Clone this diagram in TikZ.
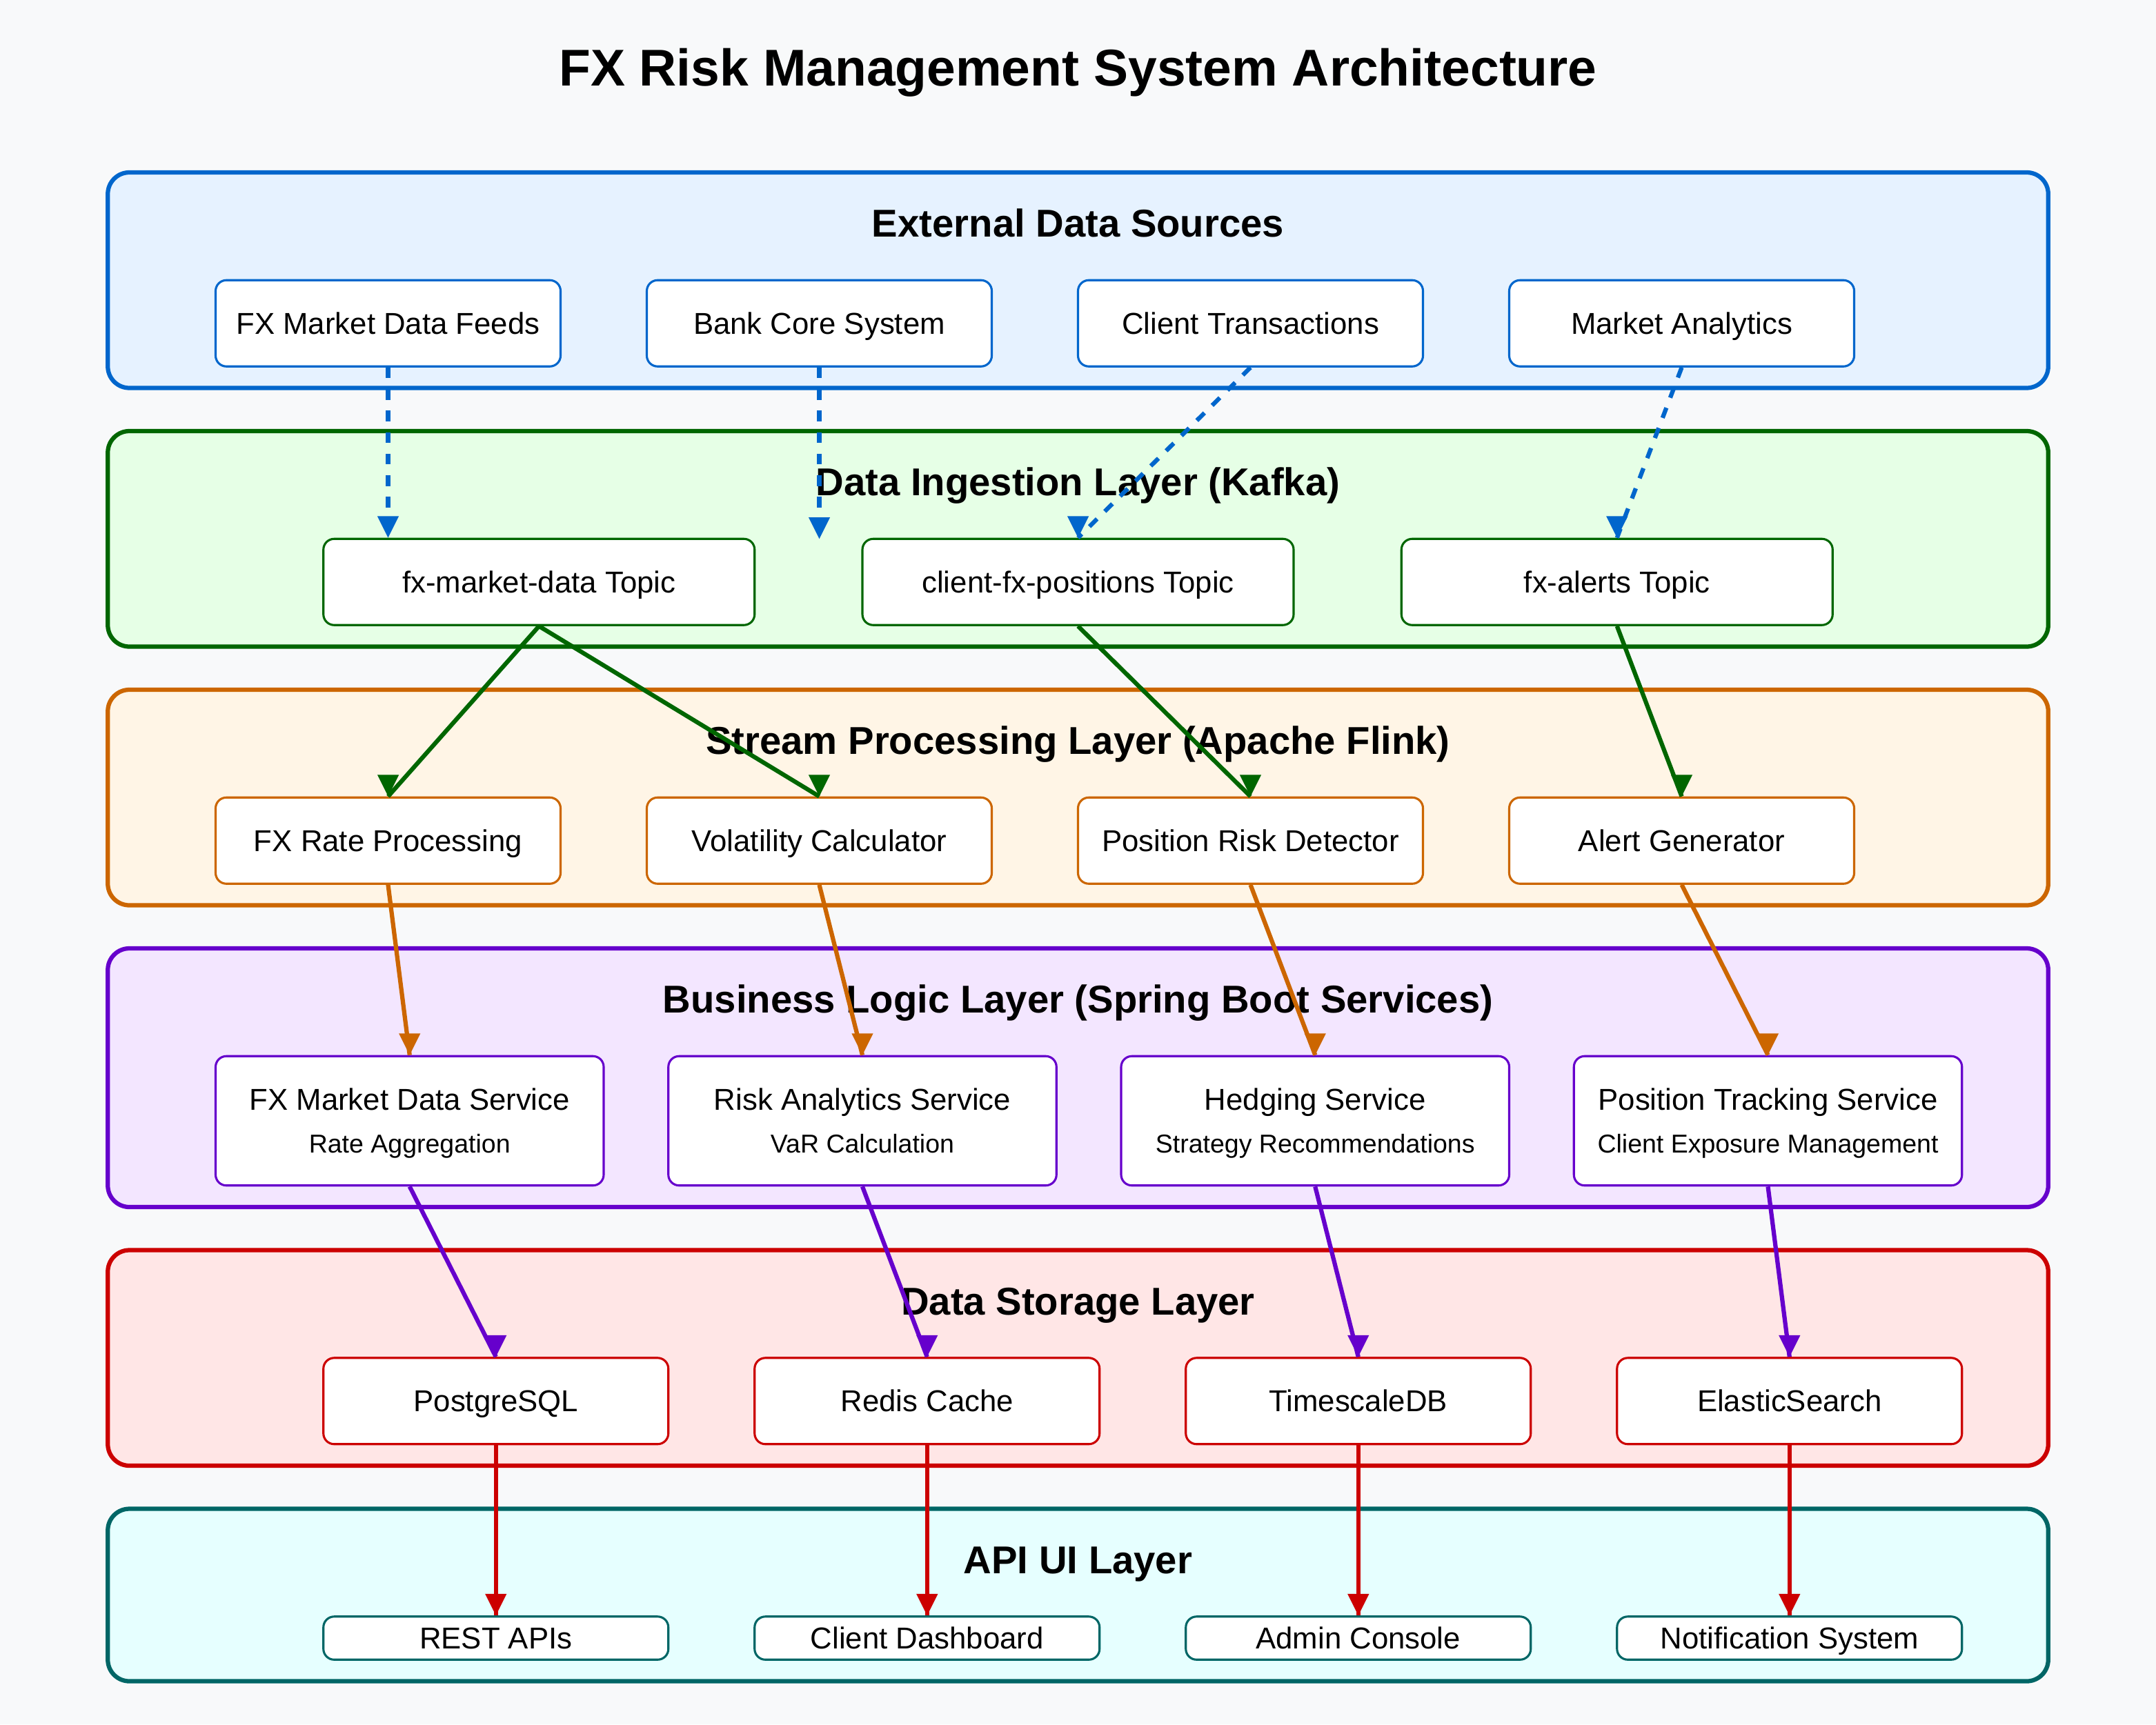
\documentclass[tikz,border=0pt]{standalone}
\usepackage{fontspec}
\setmainfont{Liberation Sans}
\usepackage{xcolor}
\usetikzlibrary{decorations.markings}

\definecolor{pagebg}{HTML}{F8F9FA}
\definecolor{extline}{HTML}{0066CC}
\definecolor{extfill}{HTML}{E6F2FF}
\definecolor{ingline}{HTML}{006600}
\definecolor{ingfill}{HTML}{E6FFE6}
\definecolor{strline}{HTML}{CC6600}
\definecolor{strfill}{HTML}{FFF5E6}
\definecolor{bizline}{HTML}{6600CC}
\definecolor{bizfill}{HTML}{F3E6FF}
\definecolor{stoline}{HTML}{CC0000}
\definecolor{stofill}{HTML}{FFE6E6}
\definecolor{apiline}{HTML}{006666}
\definecolor{apifill}{HTML}{E6FFFF}

\tikzset{
  layerbox/.style={draw, rounded corners=10pt, line width=2pt,
    minimum width=900pt, inner sep=0pt},
  layertitle/.style={anchor=base, inner sep=0pt,
    font=\fontsize{18}{20}\selectfont\bfseries},
  compbox/.style={draw, fill=white, rounded corners=5pt, line width=1pt,
    inner sep=0pt, minimum width=160pt, minimum height=40pt,
    font=\fontsize{14}{16}\selectfont, text height=10pt, text depth=0pt},
  svcname/.style={anchor=base, inner sep=0pt, font=\fontsize{14}{16}\selectfont},
  svcsub/.style={anchor=base, inner sep=0pt, font=\fontsize{12}{14}\selectfont},
  % head always points straight down, whatever the line's slope
  flow/.style={line width=2pt, postaction={decorate},
    decoration={markings, mark=at position 1 with {
      \pgftransformresetnontranslations
      \fill (0pt,0pt) -- (-5pt,10pt) -- (5pt,10pt) -- cycle;}}},
  feed/.style={flow, dash pattern=on 5pt off 5pt},
}

\begin{document}
\begin{tikzpicture}[x=1pt,y=-1pt]
  \useasboundingbox (0,0) rectangle (1000,800);
  \fill[pagebg] (0,0) rectangle (1000,800);

  \node (title) [anchor=base, inner sep=0pt, font=\fontsize{24}{28}\selectfont\bfseries]
    at (500,40) {FX Risk Management System Architecture};

  % layers
  \node (ext) [layerbox, draw=extline, fill=extfill, minimum height=100pt] at (500,130) {};
  \node (ing) [layerbox, draw=ingline, fill=ingfill, minimum height=100pt] at (500,250) {};
  \node (str) [layerbox, draw=strline, fill=strfill, minimum height=100pt] at (500,370) {};
  \node (biz) [layerbox, draw=bizline, fill=bizfill, minimum height=120pt] at (500,500) {};
  \node (sto) [layerbox, draw=stoline, fill=stofill, minimum height=100pt] at (500,630) {};
  \node (api) [layerbox, draw=apiline, fill=apifill, minimum height=80pt] at (500,740) {};

  \node (extt) [layertitle] at (500,110) {External Data Sources};
  \node (ingt) [layertitle] at (500,230) {Data Ingestion Layer (Kafka)};
  \node (strt) [layertitle] at (500,350) {Stream Processing Layer (Apache Flink)};
  \node (bizt) [layertitle] at (500,470) {Business Logic Layer (Spring Boot Services)};
  \node (stot) [layertitle] at (500,610) {Data Storage Layer};
  \node (apit) [layertitle] at (500,730) {API UI Layer};

  % external sources
  \node (feeds) [compbox, draw=extline] at (180,150) {FX Market Data Feeds};
  \node (bank) [compbox, draw=extline] at (380,150) {Bank Core System};
  \node (trans) [compbox, draw=extline] at (580,150) {Client Transactions};
  \node (analytics) [compbox, draw=extline] at (780,150) {Market Analytics};

  % kafka topics
  \node (mkt) [compbox, draw=ingline, minimum width=200pt] at (250,270) {fx-market-data Topic};
  \node (pos) [compbox, draw=ingline, minimum width=200pt] at (500,270) {client-fx-positions Topic};
  \node (alerts) [compbox, draw=ingline, minimum width=200pt] at (750,270) {fx-alerts Topic};

  % flink jobs
  \node (rate) [compbox, draw=strline] at (180,390) {FX Rate Processing};
  \node (vol) [compbox, draw=strline] at (380,390) {Volatility Calculator};
  \node (risk) [compbox, draw=strline] at (580,390) {Position Risk Detector};
  \node (gen) [compbox, draw=strline] at (780,390) {Alert Generator};

  % services
  \node (mds) [compbox, draw=bizline, minimum width=180pt, minimum height=60pt] at (190,520) {};
  \node (ras) [compbox, draw=bizline, minimum width=180pt, minimum height=60pt] at (400,520) {};
  \node (hs) [compbox, draw=bizline, minimum width=180pt, minimum height=60pt] at (610,520) {};
  \node (pts) [compbox, draw=bizline, minimum width=180pt, minimum height=60pt] at (820,520) {};
  \node (mdsn) [svcname] at ([yshift=5pt]mds.center) {FX Market Data Service};
  \node (mdss) [svcsub] at ([yshift=-15pt]mds.center) {Rate Aggregation};
  \node (rasn) [svcname] at ([yshift=5pt]ras.center) {Risk Analytics Service};
  \node (rass) [svcsub] at ([yshift=-15pt]ras.center) {VaR Calculation};
  \node (hsn) [svcname] at ([yshift=5pt]hs.center) {Hedging Service};
  \node (hss) [svcsub] at ([yshift=-15pt]hs.center) {Strategy Recommendations};
  \node (ptsn) [svcname] at ([yshift=5pt]pts.center) {Position Tracking Service};
  \node (ptss) [svcsub] at ([yshift=-15pt]pts.center) {Client Exposure Management};

  % storage
  \node (pg) [compbox, draw=stoline] at (230,650) {PostgreSQL};
  \node (redis) [compbox, draw=stoline] at (430,650) {Redis Cache};
  \node (tsdb) [compbox, draw=stoline] at (630,650) {TimescaleDB};
  \node (es) [compbox, draw=stoline] at (830,650) {ElasticSearch};

  % api / ui
  \node (rest) [compbox, draw=apiline, minimum height=20pt] at (230,760) {REST APIs};
  \node (dash) [compbox, draw=apiline, minimum height=20pt] at (430,760) {Client Dashboard};
  \node (admin) [compbox, draw=apiline, minimum height=20pt] at (630,760) {Admin Console};
  \node (notify) [compbox, draw=apiline, minimum height=20pt] at (830,760) {Notification System};

  % sources -> kafka
  \coordinate (bankin) at (380,250);
  \draw[feed, extline] (feeds.south) -- (feeds.south |- mkt.north);
  \draw[feed, extline] (bank.south) -- (bankin);
  \draw[feed, extline] (trans.south) -- (pos.north);
  \draw[feed, extline] (analytics.south) -- (alerts.north);

  % kafka -> flink
  \draw[flow, ingline] (mkt.south) -- (rate.north);
  \draw[flow, ingline] (mkt.south) -- (vol.north);
  \draw[flow, ingline] (pos.south) -- (risk.north);
  \draw[flow, ingline] (alerts.south) -- (gen.north);

  % flink -> services
  \draw[flow, strline] (rate.south) -- (mds.north);
  \draw[flow, strline] (vol.south) -- (ras.north);
  \draw[flow, strline] (risk.south) -- (hs.north);
  \draw[flow, strline] (gen.south) -- (pts.north);

  % services -> storage
  \draw[flow, bizline] (mds.south) -- (pg.north);
  \draw[flow, bizline] (ras.south) -- (redis.north);
  \draw[flow, bizline] (hs.south) -- (tsdb.north);
  \draw[flow, bizline] (pts.south) -- (es.north);

  % storage -> api
  \draw[flow, stoline] (pg.south) -- (rest.north);
  \draw[flow, stoline] (redis.south) -- (dash.north);
  \draw[flow, stoline] (tsdb.south) -- (admin.north);
  \draw[flow, stoline] (es.south) -- (notify.north);
\end{tikzpicture}
\end{document}
